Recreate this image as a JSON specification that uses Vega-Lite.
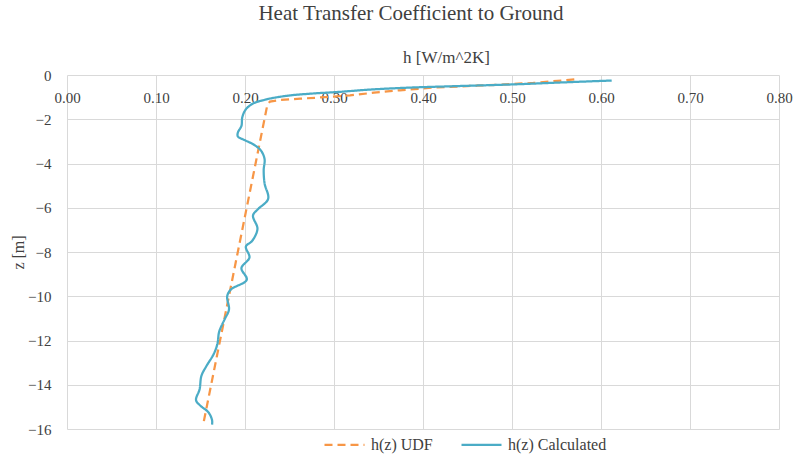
{
  "$schema": "https://vega.github.io/schema/vega-lite/v6.json",
  "width": 712,
  "height": 354,
  "autosize": {"type": "none"},
  "padding": {"left": 67, "top": 75, "right": 27, "bottom": 30},
  "background": "white",
  "title": {
    "text": "Heat Transfer Coefficient to Ground",
    "font": "Liberation Serif",
    "fontSize": 21,
    "fontWeight": "normal",
    "color": "#404040",
    "anchor": "middle",
    "frame": "group",
    "dx": -12,
    "offset": 24
  },
  "datasets": {
    "udf": [
      {"i": 1, "series": "h(z) UDF", "h": 0.570, "z": -0.20},
      {"i": 2, "series": "h(z) UDF", "h": 0.524, "z": -0.36},
      {"i": 3, "series": "h(z) UDF", "h": 0.468, "z": -0.47},
      {"i": 4, "series": "h(z) UDF", "h": 0.411, "z": -0.57},
      {"i": 5, "series": "h(z) UDF", "h": 0.374, "z": -0.69},
      {"i": 6, "series": "h(z) UDF", "h": 0.345, "z": -0.80},
      {"i": 7, "series": "h(z) UDF", "h": 0.318, "z": -0.92},
      {"i": 8, "series": "h(z) UDF", "h": 0.290, "z": -1.00},
      {"i": 9, "series": "h(z) UDF", "h": 0.262, "z": -1.07},
      {"i": 10, "series": "h(z) UDF", "h": 0.240, "z": -1.13},
      {"i": 11, "series": "h(z) UDF", "h": 0.228, "z": -1.20},
      {"i": 12, "series": "h(z) UDF", "h": 0.225, "z": -1.37},
      {"i": 13, "series": "h(z) UDF", "h": 0.153, "z": -15.8}
    ],
    "calc": [
      {"i": 1, "series": "h(z) Calculated", "h": 0.612, "z": -0.25},
      {"i": 2, "series": "h(z) Calculated", "h": 0.560, "z": -0.33},
      {"i": 3, "series": "h(z) Calculated", "h": 0.505, "z": -0.42},
      {"i": 4, "series": "h(z) Calculated", "h": 0.440, "z": -0.50},
      {"i": 5, "series": "h(z) Calculated", "h": 0.385, "z": -0.57},
      {"i": 6, "series": "h(z) Calculated", "h": 0.340, "z": -0.66},
      {"i": 7, "series": "h(z) Calculated", "h": 0.307, "z": -0.76},
      {"i": 8, "series": "h(z) Calculated", "h": 0.275, "z": -0.84},
      {"i": 9, "series": "h(z) Calculated", "h": 0.251, "z": -0.92},
      {"i": 10, "series": "h(z) Calculated", "h": 0.234, "z": -1.02},
      {"i": 11, "series": "h(z) Calculated", "h": 0.222, "z": -1.12},
      {"i": 12, "series": "h(z) Calculated", "h": 0.209, "z": -1.29},
      {"i": 13, "series": "h(z) Calculated", "h": 0.201, "z": -1.55},
      {"i": 14, "series": "h(z) Calculated", "h": 0.197, "z": -1.9},
      {"i": 15, "series": "h(z) Calculated", "h": 0.196, "z": -2.3},
      {"i": 16, "series": "h(z) Calculated", "h": 0.192, "z": -2.6},
      {"i": 17, "series": "h(z) Calculated", "h": 0.192, "z": -2.78},
      {"i": 18, "series": "h(z) Calculated", "h": 0.200, "z": -2.95},
      {"i": 19, "series": "h(z) Calculated", "h": 0.210, "z": -3.15},
      {"i": 20, "series": "h(z) Calculated", "h": 0.218, "z": -3.42},
      {"i": 21, "series": "h(z) Calculated", "h": 0.222, "z": -3.8},
      {"i": 22, "series": "h(z) Calculated", "h": 0.221, "z": -4.3},
      {"i": 23, "series": "h(z) Calculated", "h": 0.222, "z": -4.9},
      {"i": 24, "series": "h(z) Calculated", "h": 0.226, "z": -5.6},
      {"i": 25, "series": "h(z) Calculated", "h": 0.215, "z": -6.05},
      {"i": 26, "series": "h(z) Calculated", "h": 0.209, "z": -6.35},
      {"i": 27, "series": "h(z) Calculated", "h": 0.214, "z": -6.95},
      {"i": 28, "series": "h(z) Calculated", "h": 0.208, "z": -7.5},
      {"i": 29, "series": "h(z) Calculated", "h": 0.201, "z": -7.75},
      {"i": 30, "series": "h(z) Calculated", "h": 0.205, "z": -8.25},
      {"i": 31, "series": "h(z) Calculated", "h": 0.196, "z": -8.73},
      {"i": 32, "series": "h(z) Calculated", "h": 0.202, "z": -9.25},
      {"i": 33, "series": "h(z) Calculated", "h": 0.184, "z": -9.7},
      {"i": 34, "series": "h(z) Calculated", "h": 0.180, "z": -10.0},
      {"i": 35, "series": "h(z) Calculated", "h": 0.182, "z": -10.6},
      {"i": 36, "series": "h(z) Calculated", "h": 0.177, "z": -11.05},
      {"i": 37, "series": "h(z) Calculated", "h": 0.171, "z": -11.6},
      {"i": 38, "series": "h(z) Calculated", "h": 0.169, "z": -12.15},
      {"i": 39, "series": "h(z) Calculated", "h": 0.165, "z": -12.6},
      {"i": 40, "series": "h(z) Calculated", "h": 0.156, "z": -13.2},
      {"i": 41, "series": "h(z) Calculated", "h": 0.151, "z": -13.6},
      {"i": 42, "series": "h(z) Calculated", "h": 0.149, "z": -14.2},
      {"i": 43, "series": "h(z) Calculated", "h": 0.145, "z": -14.7},
      {"i": 44, "series": "h(z) Calculated", "h": 0.150, "z": -14.95},
      {"i": 45, "series": "h(z) Calculated", "h": 0.159, "z": -15.25},
      {"i": 46, "series": "h(z) Calculated", "h": 0.163, "z": -15.6},
      {"i": 47, "series": "h(z) Calculated", "h": 0.163, "z": -15.8}
    ]
  },
  "encoding": {
    "x": {
      "field": "h",
      "type": "quantitative",
      "scale": {"domain": [0, 0.8], "nice": false, "zero": false},
      "axis": {
        "orient": "top",
        "title": "h [W/m^2K]",
        "values": [0, 0.1, 0.2, 0.3, 0.4, 0.5, 0.6, 0.7, 0.8],
        "format": ".2f",
        "labelFlush": false,
        "labelOverlap": false,
        "labelBaseline": "middle",
        "labelPadding": -22,
        "titlePadding": 9,
        "titleFontSize": 17,
        "titleX": 379
      }
    },
    "y": {
      "field": "z",
      "type": "quantitative",
      "scale": {"domain": [-16, 0], "nice": false, "zero": false},
      "axis": {
        "title": "z [m]",
        "values": [-16, -14, -12, -10, -8, -6, -4, -2, 0],
        "labelFlush": false,
        "labelOverlap": false,
        "labelPadding": 16,
        "titlePadding": 1,
        "titleFontSize": 16
      }
    },
    "order": {"field": "i", "type": "quantitative"},
    "color": {
      "field": "series",
      "type": "nominal",
      "scale": {"domain": ["h(z) UDF", "h(z) Calculated"], "range": ["#F79646", "#4BACC6"]},
      "legend": {
        "title": null,
        "orient": "none",
        "direction": "horizontal",
        "legendX": 256,
        "legendY": 348,
        "symbolType": "stroke",
        "symbolSize": 1600,
        "symbolStrokeWidth": 2.25,
        "labelOffset": 5,
        "columnPadding": 24
      }
    },
    "strokeDash": {
      "field": "series",
      "type": "nominal",
      "scale": {"domain": ["h(z) UDF", "h(z) Calculated"], "range": [[8, 5], [1, 0]]},
      "legend": null
    }
  },
  "layer": [
    {
      "data": {"name": "udf"},
      "mark": {"type": "line", "strokeWidth": 2.25, "interpolate": "linear"}
    },
    {
      "data": {"name": "calc"},
      "mark": {"type": "line", "strokeWidth": 2.25, "interpolate": "catmull-rom"}
    }
  ],
  "config": {
    "font": "Liberation Serif",
    "view": {"stroke": null},
    "axis": {
      "grid": true,
      "gridColor": "#d9d9d9",
      "gridWidth": 1,
      "domain": false,
      "ticks": false,
      "labelFont": "Liberation Serif",
      "labelFontSize": 15,
      "labelColor": "#404040",
      "titleFont": "Liberation Serif",
      "titleFontSize": 15,
      "titleFontWeight": "normal",
      "titleColor": "#404040"
    },
    "legend": {
      "labelFont": "Liberation Serif",
      "labelFontSize": 16,
      "labelColor": "#404040"
    }
  }
}
